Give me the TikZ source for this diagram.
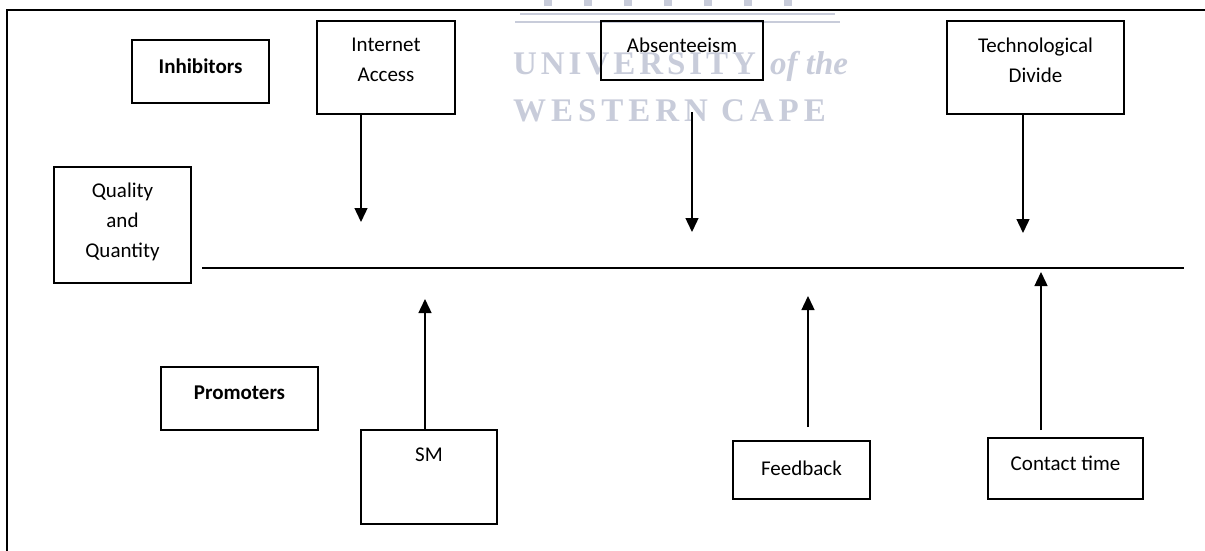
\documentclass[tikz,border=0pt]{standalone}
\usepackage{fontspec}
\setmainfont{Carlito}
\newfontfamily\wmfont{Liberation Serif}
\usetikzlibrary{arrows.meta}
\tikzset{
  box/.style={draw, line width=1.4pt, rectangle, inner sep=0pt},
  lbl/.style={font=\fontsize{21}{30}\selectfont, align=center, inner sep=0pt},
  hdr/.style={font=\fontsize{21}{30}\selectfont\bfseries, inner sep=0pt},
  arr/.style={line width=1.4pt, -{Triangle[width=13pt,length=14pt]}},
  plain/.style={line width=1.4pt},
  wm/.style={text=wmcol, inner sep=0pt, anchor=west},
}
\definecolor{wmcol}{RGB}{200,204,218}
\begin{document}
\begin{tikzpicture}[x=1pt,y=1pt]
\useasboundingbox (0,0) rectangle (1205,-551);
% watermark
\fill[white] (513,0) rectangle (843,-123);
\foreach \cx in {548,588,628,668,708,748,788} {
  \fill[wmcol] (\cx-4,0) rectangle (\cx+4,-6);
}
\draw[wmcol, line width=2pt] (520,-14) -- (835,-14);
\draw[wmcol, line width=2pt] (515,-22) -- (840,-22);
\node[wm, font=\wmfont\fontsize{33}{36}\selectfont\bfseries\addfontfeature{LetterSpace=12}] (wm1) at (513,-64) {UNIVERSITY};
\node[wm, font=\wmfont\fontsize{33}{36}\selectfont\bfseries\itshape] (wm2) at (770,-66) {of the};
\node[wm, font=\wmfont\fontsize{33}{36}\selectfont\bfseries\addfontfeature{LetterSpace=15}] (wm3) at (513,-111) {WESTERN CAPE};
% frame
\coordinate (f1) at (1205,-10);
\coordinate (f2) at (7,-10);
\coordinate (f3) at (7,-551);
\draw[plain] (f1) -- (f2) -- (f3);
% boxes
\node[box, minimum width=137pt, minimum height=63pt] (inh) at (200.5,-71.5) {};
\node[hdr] at (200.5,-66) {Inhibitors};
\node[box, minimum width=138pt, minimum height=93pt] (ia) at (386,-67.5) {};
\node[lbl] at (386,-60) {Internet\\Access};
\node[box, minimum width=137pt, minimum height=116pt] (qq) at (122.5,-225) {};
\node[lbl] at (122.5,-222) {Quality\\and\\Quantity};
\node[box, minimum width=162pt, minimum height=59pt] (ab) at (682,-50.5) {};
\node[lbl] at (682,-45) {Absenteeism};
\node[box, minimum width=177pt, minimum height=93pt] (td) at (1035.5,-67.5) {};
\node[lbl] at (1035.5,-60) {Technological\\Divide};
\node[box, minimum width=157pt, minimum height=63pt] (pr) at (239.5,-398.5) {};
\node[hdr] at (239.5,-393) {Promoters};
\node[box, minimum width=136pt, minimum height=94pt] (sm) at (429,-477) {};
\node[lbl] at (429,-455) {SM};
\node[box, minimum width=137pt, minimum height=58pt] (fb) at (801.5,-470) {};
\node[lbl] at (801.5,-468) {Feedback};
\node[box, minimum width=155pt, minimum height=61pt] (ct) at (1065.5,-468.5) {};
\node[lbl] at (1065.5,-463) {Contact time};
% main line
\coordinate (m1) at (202,-268);
\coordinate (m2) at (1184,-268);
\draw[plain] (m1) -- (m2);
% arrow ends
\coordinate (e1) at (361,-222);
\coordinate (s2) at (692,-112);
\coordinate (e2) at (692,-232);
\coordinate (e3) at (1023,-233);
\coordinate (e4) at (425,-299);
\coordinate (s5) at (808,-427);
\coordinate (e5) at (808,-296);
\coordinate (s6) at (1041,-430);
\coordinate (e6) at (1041,-272);
% arrows
\draw[arr] (ia.south -| e1) -- (e1);
\draw[arr] (s2) -- (e2);
\draw[arr] (td.south -| e3) -- (e3);
\draw[arr] (sm.north -| e4) -- (e4);
\draw[arr] (s5) -- (e5);
\draw[arr] (s6) -- (e6);
\end{tikzpicture}
\end{document}
